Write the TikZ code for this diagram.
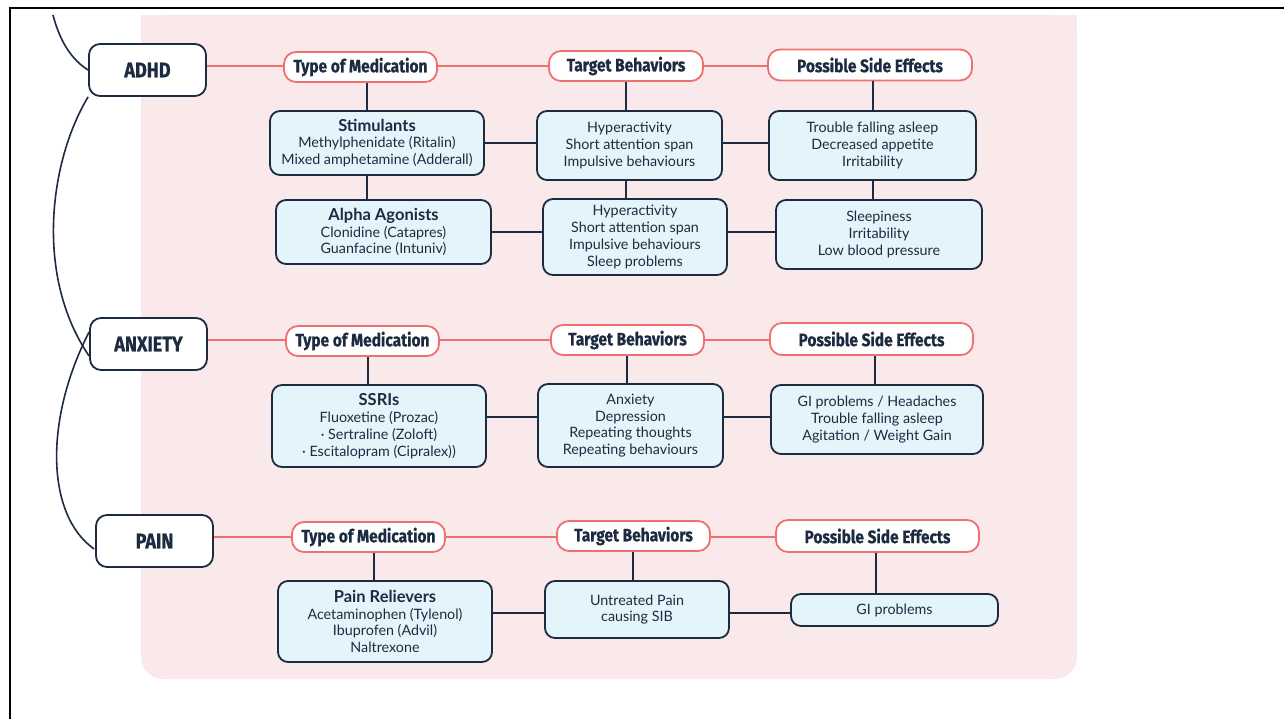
\documentclass[tikz,border=0pt]{standalone}
\usepackage{fontspec}
\setmainfont{Lato}
\newfontfamily\headfont[FakeStretch=0.86, BoldFeatures={FakeBold=0.7}]{Fira Sans}
\definecolor{navy}{HTML}{1D2B40}
\definecolor{redln}{HTML}{F07070}
\definecolor{bluefill}{HTML}{E3F4FB}
\definecolor{pinkbg}{HTML}{FAE9EA}
\newcommand{\ttl}[1]{{\fontsize{16.5}{18}\selectfont\bfseries #1}}
\tikzset{
  catbox/.style={draw=navy, fill=white, line width=1.8pt, rounded corners=11pt,
    minimum width=117pt, minimum height=52pt, inner sep=0pt, text=navy,
    font=\headfont\bfseries\fontsize{21}{24}\selectfont},
  hdrbox/.style={draw=redln, fill=white, line width=1.8pt, rounded corners=12pt,
    minimum height=30pt, inner sep=0pt, text=navy,
    font=\headfont\bfseries\fontsize{18}{20}\selectfont},
  infobox/.style={draw=navy, fill=bluefill, line width=1.8pt, rounded corners=10pt,
    inner sep=0pt, align=center, text=navy,
    font=\fontsize{14.3}{16.8}\selectfont},
  navyln/.style={draw=navy, line width=1.8pt},
  redlink/.style={draw=redln, line width=1.8pt}
}
\begin{document}
\begin{tikzpicture}[x=1pt,y=-1pt]
\useasboundingbox (0,0) rectangle (1284,719);
% frame
\draw[black, line width=2.5pt] (10,719) -- (10,8) -- (1284,8);
% pink background
\fill[pinkbg, rounded corners=22pt] (141,15) rectangle (1077,679);
\fill[pinkbg] (141,15) rectangle (1077,80);

% category nodes
\node[catbox] (adhd) at (147.5,70) {ADHD};
\node[catbox] (anx) at (148.5,344) {ANXIETY};
\node[catbox] (pain) at (154.5,541) {PAIN};

% spine curves
\coordinate (top) at (53,15);
\draw[navyln, line width=1.6pt] (top) .. controls (60,42) and (72,60) .. (adhd.west);
\draw[navyln, line width=1.6pt] (adhd.south west) .. controls (50,160) and (34,275) .. ([yshift=-12pt]anx.west);
\draw[navyln, line width=1.6pt] ([yshift=12pt]anx.west) .. controls (44,420) and (46,515) .. ([xshift=-1pt,yshift=-8pt]pain.west);

% headers
\node[hdrbox, minimum width=153pt] (tm1) at (360.5,67) {Type of Medication};
\node[hdrbox, minimum width=154pt] (tb1) at (626,66) {Target Behaviors};
\node[hdrbox, minimum width=204pt, minimum height=31pt] (se1) at (870,65) {Possible Side Effects};
\node[hdrbox, minimum width=153pt] (tm2) at (362.5,341) {Type of Medication};
\node[hdrbox, minimum width=153pt] (tb2) at (627.5,340) {Target Behaviors};
\node[hdrbox, minimum width=203pt, minimum height=32pt] (se2) at (871.5,339) {Possible Side Effects};
\node[hdrbox, minimum width=153pt] (tm3) at (368.5,537) {Type of Medication};
\node[hdrbox, minimum width=153pt] (tb3) at (633.5,536) {Target Behaviors};
\node[hdrbox, minimum width=203pt, minimum height=32pt] (se3) at (877.5,536) {Possible Side Effects};

% info boxes
\node[infobox, minimum width=214pt, minimum height=64pt] (stim) at (377,143)
  {\ttl{Stimulants}\\Methylphenidate (Ritalin)\\Mixed amphetamine (Adderall)};
\node[infobox, minimum width=185pt, minimum height=69pt] (hyp1) at (629.5,145.5)
  {Hyperactivity\\Short attention span\\Impulsive behaviours};
\node[infobox, minimum width=207pt, minimum height=69pt] (trb) at (872.5,145.5)
  {Trouble falling asleep\\Decreased appetite\\Irritability};
\node[infobox, minimum width=215pt, minimum height=64pt] (alpha) at (383.5,232)
  {\ttl{Alpha Agonists}\\Clonidine (Catapres)\\Guanfacine (Intuniv)};
\node[infobox, minimum width=184pt, minimum height=76pt] (hyp2) at (635,237)
  {Hyperactivity\\Short attention span\\Impulsive behaviours\\Sleep problems};
\node[infobox, minimum width=206pt, minimum height=69pt] (sleep) at (879,234.5)
  {Sleepiness\\Irritability\\Low blood pressure};

\node[infobox, minimum width=214pt, minimum height=82pt] (ssri) at (379,426)
  {\ttl{SSRIs}\\Fluoxetine (Prozac)\\· Sertraline (Zoloft)\\· Escitalopram (Cipralex))};
\node[infobox, minimum width=185pt, minimum height=83pt] (anxb) at (630.5,425.5)
  {Anxiety\\Depression\\Repeating thoughts\\Repeating behaviours};
\node[infobox, minimum width=212pt, minimum height=69pt] (gi2) at (877,419.5)
  {GI problems / Headaches\\Trouble falling asleep\\Agitation / Weight Gain};

\node[infobox, minimum width=214pt, minimum height=81pt] (pr) at (385,621.5)
  {\ttl{Pain Relievers}\\Acetaminophen (Tylenol)\\Ibuprofen (Advil)\\Naltrexone};
\node[infobox, minimum width=184pt, minimum height=57pt] (unt) at (637,609.5)
  {Untreated Pain\\causing SIB};
\node[infobox, minimum width=207pt, minimum height=32pt] (gi3) at (894.5,610)
  {GI problems};

% column / row guide coordinates
\coordinate (a1) at (367,0);   \coordinate (a2) at (626,0);   \coordinate (a3) at (873,0);
\coordinate (b1) at (368,0);   \coordinate (b2) at (627,0);   \coordinate (b3) at (875,0);
\coordinate (c1) at (374,0);   \coordinate (c2) at (633,0);   \coordinate (c3) at (876,0);
\coordinate (r1) at (0,143);   \coordinate (r2) at (0,232);
\coordinate (r3) at (0,417);   \coordinate (r4) at (0,613);
\coordinate (h1) at (0,66);    \coordinate (h2) at (0,340);   \coordinate (h3) at (0,537);

% red header links
\draw[redlink] (adhd.east |- h1) -- (tm1.west |- h1);
\draw[redlink] (tm1.east |- h1) -- (tb1.west |- h1);
\draw[redlink] (tb1.east |- h1) -- (se1.west |- h1);
\draw[redlink] (anx.east |- h2) -- (tm2.west |- h2);
\draw[redlink] (tm2.east |- h2) -- (tb2.west |- h2);
\draw[redlink] (tb2.east |- h2) -- (se2.west |- h2);
\draw[redlink] (pain.east |- h3) -- (tm3.west |- h3);
\draw[redlink] (tm3.east |- h3) -- (tb3.west |- h3);
\draw[redlink] (tb3.east |- h3) -- (se3.west |- h3);

% vertical navy links
\draw[navyln] (tm1.south -| a1) -- (stim.north -| a1);
\draw[navyln] (stim.south -| a1) -- (alpha.north -| a1);
\draw[navyln] (tb1.south -| a2) -- (hyp1.north -| a2);
\draw[navyln] (hyp1.south -| a2) -- (hyp2.north -| a2);
\draw[navyln] (se1.south -| a3) -- (trb.north -| a3);
\draw[navyln] (trb.south -| a3) -- (sleep.north -| a3);
\draw[navyln] (tm2.south -| b1) -- (ssri.north -| b1);
\draw[navyln] (tb2.south -| b2) -- (anxb.north -| b2);
\draw[navyln] (se2.south -| b3) -- (gi2.north -| b3);
\draw[navyln] (tm3.south -| c1) -- (pr.north -| c1);
\draw[navyln] (tb3.south -| c2) -- (unt.north -| c2);
\draw[navyln] (se3.south -| c3) -- (gi3.north -| c3);

% horizontal navy links
\draw[navyln] (stim.east |- r1) -- (hyp1.west |- r1);
\draw[navyln] (hyp1.east |- r1) -- (trb.west |- r1);
\draw[navyln] (alpha.east |- r2) -- (hyp2.west |- r2);
\draw[navyln] (hyp2.east |- r2) -- (sleep.west |- r2);
\draw[navyln] (ssri.east |- r3) -- (anxb.west |- r3);
\draw[navyln] (anxb.east |- r3) -- (gi2.west |- r3);
\draw[navyln] (pr.east |- r4) -- (unt.west |- r4);
\draw[navyln] (unt.east |- r4) -- (gi3.west |- r4);
\end{tikzpicture}
\end{document}
